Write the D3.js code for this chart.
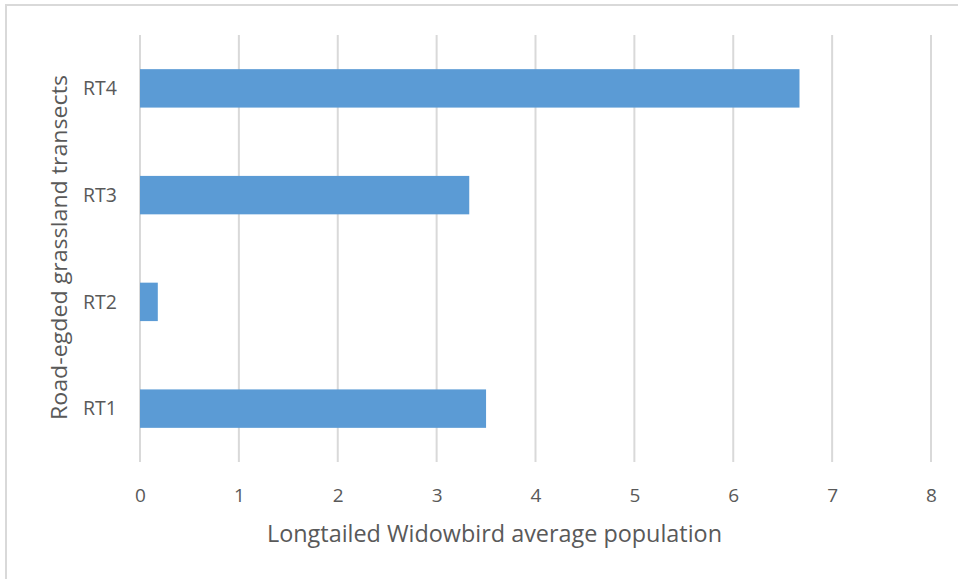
<!DOCTYPE html>
<html>
<head>
<meta charset="utf-8">
<script src="https://cdn.jsdelivr.net/npm/d3@7"></script>
<style>
  html, body { margin: 0; padding: 0; background: #fff; }
  svg { display: block; }
</style>
</head>
<body>
<svg id="chart" width="958" height="579"></svg>
<script>
// Transect categories, listed bottom to top
const categories = ["RT1", "RT2", "RT3", "RT4"];
// Average population per transect
const values = [3.5, 0.18, 3.33, 6.67];
// Value-axis ticks
const ticks = [0, 1, 2, 3, 4, 5, 6, 7, 8];
const xTitle = "Longtailed Widowbird average population";
const yTitle = "Road-egded grassland transects";

const svg = d3.select("#chart");
const W = 958, H = 579;
const plot = { left: 140, right: 931, top: 35, bottom: 462 };
const textColor = "#595959";
const font = "'Open Sans', sans-serif";

svg.append("rect").attr("width", W).attr("height", H).attr("fill", "#fff");
// Chart area frame (runs past the right and bottom edges)
svg.append("rect")
  .attr("x", 6).attr("y", 5).attr("width", W + 10).attr("height", H + 10)
  .attr("fill", "none").attr("stroke", "#d9d9d9").attr("stroke-width", 2);

const x = d3.scaleLinear().domain([0, 8]).range([plot.left, plot.right]);
const y = d3.scaleBand()
  .domain(categories.slice().reverse())
  .range([plot.top, plot.bottom])
  .paddingInner(0.64).paddingOuter(0.32);

// Vertical gridlines
svg.append("g").selectAll("line").data(ticks).join("line")
  .attr("x1", d => x(d)).attr("x2", d => x(d))
  .attr("y1", plot.top).attr("y2", plot.bottom)
  .attr("stroke", "#d9d9d9").attr("stroke-width", 2);

// Bars
svg.append("g").selectAll("rect").data(categories).join("rect")
  .attr("x", x(0))
  .attr("y", (d) => y(d))
  .attr("width", (d, i) => x(values[i]) - x(0))
  .attr("height", y.bandwidth())
  .attr("fill", "#5b9bd5");

// Value axis
const xAxis = d3.axisBottom(x).tickValues(ticks).tickSize(0).tickPadding(0).tickFormat(d3.format("d"));
const gx = svg.append("g").attr("transform", `translate(0, ${plot.bottom + 40})`).call(xAxis);
gx.select(".domain").remove();
gx.selectAll("text").attr("fill", textColor).attr("font-family", font).attr("font-size", 19).attr("dy", 0);

// Category axis
const yAxis = d3.axisLeft(y).tickSize(0).tickPadding(0);
const gy = svg.append("g").attr("transform", `translate(${plot.left - 23}, 0)`).call(yAxis);
gy.select(".domain").remove();
gy.selectAll("text").attr("fill", textColor).attr("font-family", font).attr("font-size", 19.5).attr("dy", "0.35em");

// Axis titles
svg.append("text")
  .attr("x", 494.5).attr("y", 542)
  .attr("text-anchor", "middle").attr("fill", textColor)
  .attr("font-family", font).attr("font-size", 23.5)
  .attr("textLength", 455).attr("lengthAdjust", "spacingAndGlyphs")
  .text(xTitle);

svg.append("text")
  .attr("transform", `translate(67, 247.5) rotate(-90)`)
  .attr("text-anchor", "middle").attr("fill", textColor)
  .attr("font-family", font).attr("font-size", 21)
  .attr("textLength", 345).attr("lengthAdjust", "spacingAndGlyphs")
  .text(yTitle);
</script>
</body>
</html>
